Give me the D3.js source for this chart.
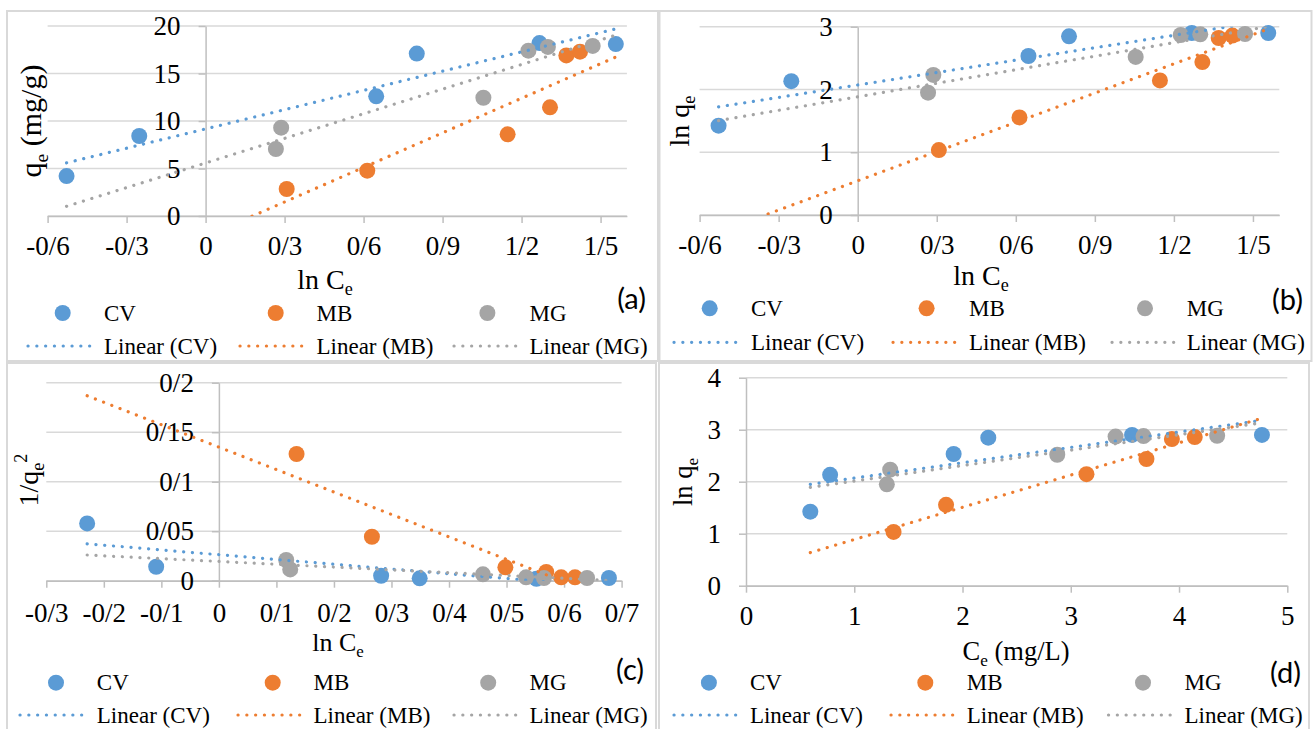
<!DOCTYPE html>
<html>
<head>
<meta charset="utf-8">
<script src="https://cdn.jsdelivr.net/npm/d3@7/dist/d3.min.js"></script>
<style>
  body { margin: 0; background: #fff; }
  svg text { font-family: "Liberation Serif", "Times New Roman", serif; fill: #000; }
</style>
</head>
<body>
<svg id="chart" width="1316" height="729"></svg>
<script>
// series names and colours
var seriesNames = ["CV", "MB", "MG"];
var seriesColors = ["#5B9BD5", "#ED7D31", "#A5A5A5"];

// ln Ce (panels a and b)
var lnCe_CV = [-0.528, -0.252, 0.648, 0.802, 1.268, 1.558];
var lnCe_MB = [0.308, 0.614, 1.147, 1.308, 1.370, 1.422];
var lnCe_MG = [0.267, 0.287, 1.055, 1.226, 1.300, 1.470];

// qe (mg/g), panel a
var qe_CV = [4.2, 8.42, 12.6, 17.1, 18.2, 18.1];
var qe_MB = [2.84, 4.77, 8.6, 11.44, 16.9, 17.3];
var qe_MG = [7.05, 9.3, 12.45, 17.4, 17.8, 17.9];

// ln qe, panels b and d
var lnqe_CV = [1.423, 2.132, 2.533, 2.846, 2.900, 2.900];
var lnqe_MB = [1.034, 1.555, 2.144, 2.437, 2.820, 2.858];
var lnqe_MG = [1.949, 2.231, 2.518, 2.868, 2.878, 2.884];

// panel c: x axis (log Ce) and 1/qe^2
var logCe_CV = [-0.229, -0.109, 0.282, 0.349, 0.552, 0.678];
var logCe_MB = [0.135, 0.266, 0.498, 0.569, 0.595, 0.619];
var logCe_MG = [0.117, 0.124, 0.459, 0.534, 0.565, 0.640];
var invq2_CV = [0.0579, 0.0141, 0.0050, 0.0024, 0.0020, 0.0027];
var invq2_MB = [0.128, 0.0444, 0.0135, 0.0088, 0.0034, 0.0034];
var invq2_MG = [0.0209, 0.0114, 0.0064, 0.0034, 0.0027, 0.0027];

// panel d: Ce (mg/L)
var Ce_CV = [0.594, 0.777, 1.918, 2.238, 3.566, 4.766];
var Ce_MB = [1.363, 1.848, 3.145, 3.699, 3.934, 4.145];
var Ce_MG = [1.301, 1.332, 2.875, 3.414, 3.672, 4.352];

// tick values
var ticksLnCe = [-0.6, -0.3, 0, 0.3, 0.6, 0.9, 1.2, 1.5];
var ticksQe = [0, 5, 10, 15, 20];
var ticksLnQe3 = [0, 1, 2, 3];
var ticksLogCe = [-0.3, -0.2, -0.1, 0, 0.1, 0.2, 0.3, 0.4, 0.5, 0.6, 0.7];
var ticksInvQ2 = [0, 0.05, 0.1, 0.15, 0.2];
var ticksCe = [0, 1, 2, 3, 4, 5];
var ticksLnQe4 = [0, 1, 2, 3, 4];

var svg = d3.select("#chart");

// persian style decimal separator
function fmt(v) {
  return String(+v.toFixed(3)).replace(".", "/");
}

function linFit(xs, ys) {
  var mx = d3.mean(xs), my = d3.mean(ys), sxx = 0, sxy = 0;
  xs.forEach(function(x, i) {
    sxx += (x - mx) * (x - mx);
    sxy += (x - mx) * (ys[i] - my);
  });
  var b = sxy / sxx;
  return { slope: b, icpt: my - b * mx };
}

// text with subscripts / superscripts
function richText(sel, parts, size) {
  var shift = 0;
  parts.forEach(function(p) {
    var target = p.sub ? size * 0.22 : (p.sup ? -size * 0.4 : 0);
    var ts = sel.append("tspan").text(p.t).attr("dy", target - shift);
    if (p.sub || p.sup) ts.style("font-size", (size * 0.65) + "px");
    shift = target;
  });
}

function drawPanel(c, id) {
  var g = svg.append("g");

  g.append("rect")
    .attr("x", c.box[0]).attr("y", c.box[1])
    .attr("width", c.box[2]).attr("height", c.box[3])
    .attr("fill", "none").attr("stroke", "#d9d9d9").attr("stroke-width", 2);

  var x = d3.scaleLinear().domain(c.xDomain).range(c.xRange);
  var y = d3.scaleLinear().domain(c.yDomain).range(c.yRange);

  // gridlines
  g.append("g").selectAll("line")
    .data(c.yTicks)
    .enter().append("line")
    .attr("x1", c.xRange[0]).attr("x2", c.xRange[1])
    .attr("y1", function(d) { return y(d); })
    .attr("y2", function(d) { return y(d); })
    .attr("stroke", "#d9d9d9").attr("stroke-width", 1.5);

  // axes
  var xAx = d3.axisBottom(x).tickValues(c.xTicks).tickFormat(fmt)
    .tickSize(7).tickSizeOuter(0).tickPadding(c.xPad);
  var yAx = d3.axisLeft(y).tickValues(c.yTicks).tickFormat(fmt)
    .tickSize(7).tickSizeOuter(0).tickPadding(18);

  var gx = g.append("g").attr("transform", "translate(0," + y(0) + ")").call(xAx);
  var gy = g.append("g").attr("transform", "translate(" + x(0) + ",0)").call(yAx);
  [gx, gy].forEach(function(a) {
    a.selectAll("path, line").attr("stroke", "#bfbfbf").attr("stroke-width", 1.5);
    a.selectAll("text").attr("fill", "#000")
      .style("font-family", '"Liberation Serif", serif').style("font-size", c.tickSize + "px");
  });

  // axis titles
  var tx = g.append("text").attr("x", c.xTitle[0]).attr("y", c.xTitle[1])
    .attr("text-anchor", "middle").style("font-size", c.xTitleSize + "px");
  richText(tx, c.xTitleParts, c.xTitleSize);
  var ty = g.append("text")
    .attr("transform", "translate(" + c.yTitle[0] + "," + c.yTitle[1] + ") rotate(-90)")
    .attr("text-anchor", "middle").style("font-size", c.yTitleSize + "px");
  richText(ty, c.yTitleParts, c.yTitleSize);

  // markers
  c.xs.forEach(function(xs, s) {
    g.append("g").selectAll("circle")
      .data(xs.map(function(v, i) { return [v, c.ys[s][i]]; }))
      .enter().append("circle")
      .attr("cx", function(d) { return x(d[0]); })
      .attr("cy", function(d) { return y(d[1]); })
      .attr("r", 8)
      .attr("fill", seriesColors[s]);
  });

  // linear trendlines, clipped to plot area
  g.append("clipPath").attr("id", "clip" + id).append("rect")
    .attr("x", c.xRange[0]).attr("y", c.yRange[1])
    .attr("width", c.xRange[1] - c.xRange[0]).attr("height", c.yRange[0] - c.yRange[1]);
  var ext = d3.extent(d3.merge(c.xs));
  c.xs.forEach(function(xs, s) {
    var f = linFit(xs, c.ys[s]);
    g.append("line")
      .attr("clip-path", "url(#clip" + id + ")")
      .attr("x1", x(ext[0])).attr("y1", y(f.icpt + f.slope * ext[0]))
      .attr("x2", x(ext[1])).attr("y2", y(f.icpt + f.slope * ext[1]))
      .attr("stroke", seriesColors[s]).attr("stroke-width", 3.2)
      .attr("stroke-linecap", "round").attr("stroke-dasharray", "0.1 8.7");
  });

  // legend
  var L = c.legend;
  seriesNames.forEach(function(name, s) {
    g.append("circle").attr("cx", L.mx[s]).attr("cy", L.row1).attr("r", 8)
      .attr("fill", seriesColors[s]);
    g.append("text").attr("x", L.tx[s]).attr("y", L.row1 + 7.5)
      .style("font-size", "23px").text(name);
    g.append("line").attr("x1", L.lx[s]).attr("x2", L.lx[s] + 62)
      .attr("y1", L.row2).attr("y2", L.row2)
      .attr("stroke", seriesColors[s]).attr("stroke-width", 3.2)
      .attr("stroke-linecap", "round").attr("stroke-dasharray", "0.1 8.7");
    g.append("text").attr("x", L.tx[s]).attr("y", L.row2 + 7.5)
      .style("font-size", "23px").text("Linear (" + name + ")");
  });

  g.append("text").attr("x", c.tag[0]).attr("y", c.tag[1])
    .attr("text-anchor", "end")
    .style("font-family", "Lato, 'Open Sans', sans-serif").style("font-size", "29px")
    .text(c.tagText);
}

drawPanel({
  box: [7, 11, 651, 350],
  xDomain: [-0.6, 1.6], xRange: [47.6, 626.9],
  yDomain: [0, 20], yRange: [216, 26],
  xTicks: ticksLnCe, yTicks: ticksQe,
  xs: [lnCe_CV, lnCe_MB, lnCe_MG], ys: [qe_CV, qe_MB, qe_MG],
  tickSize: 27, xPad: 13,
  xTitle: [325, 289], xTitleSize: 28, xTitleParts: [{t: "ln C"}, {t: "e", sub: true}],
  yTitle: [41, 121], yTitleSize: 30, yTitleParts: [{t: "q"}, {t: "e", sub: true}, {t: " (mg/g)"}],
  legend: { mx: [62.7, 275.7, 487.4], tx: [104, 316.5, 529.5], lx: [28, 240, 454], row1: 313, row2: 346 },
  tag: [646, 309], tagText: "(a)"
}, "a");

drawPanel({
  box: [659.5, 11, 652, 350],
  xDomain: [-0.6, 1.6], xRange: [699.6, 1279.3],
  yDomain: [0, 3], yRange: [215, 26.7],
  xTicks: ticksLnCe, yTicks: ticksLnQe3,
  xs: [lnCe_CV, lnCe_MB, lnCe_MG], ys: [lnqe_CV, lnqe_MB, lnqe_MG],
  tickSize: 27, xPad: 13,
  xTitle: [981, 285], xTitleSize: 28, xTitleParts: [{t: "ln C"}, {t: "e", sub: true}],
  yTitle: [689, 121], yTitleSize: 28, yTitleParts: [{t: "ln q"}, {t: "e", sub: true}],
  legend: { mx: [709.7, 926.6, 1145], tx: [751, 969, 1186.7], lx: [674, 893, 1112], row1: 308.3, row2: 342.3 },
  tag: [1303, 310], tagText: "(b)"
}, "b");

drawPanel({
  box: [7, 363, 649, 370],
  xDomain: [-0.3, 0.7], xRange: [46.3, 621.6],
  yDomain: [0, 0.2], yRange: [580.7, 382.7],
  xTicks: ticksLogCe, yTicks: ticksInvQ2,
  xs: [logCe_CV, logCe_MB, logCe_MG], ys: [invq2_CV, invq2_MB, invq2_MG],
  tickSize: 27, xPad: 15,
  xTitle: [338, 651], xTitleSize: 26, xTitleParts: [{t: "ln C"}, {t: "e", sub: true}],
  yTitle: [38, 480], yTitleSize: 28, yTitleParts: [{t: "1/q"}, {t: "e", sub: true}, {t: "2", sup: true}],
  legend: { mx: [56, 272.7, 488.2], tx: [96.8, 313.5, 529.5], lx: [20, 238, 454], row1: 682.7, row2: 715 },
  tag: [644, 680], tagText: "(c)"
}, "c");

drawPanel({
  box: [659, 363, 650, 370],
  xDomain: [0, 5], xRange: [746, 1287.3],
  yDomain: [0, 4], yRange: [585.7, 377.7],
  xTicks: ticksCe, yTicks: ticksLnQe4,
  xs: [Ce_CV, Ce_MB, Ce_MG], ys: [lnqe_CV, lnqe_MB, lnqe_MG],
  tickSize: 27, xPad: 13,
  xTitle: [1016, 660], xTitleSize: 26.5, xTitleParts: [{t: "C"}, {t: "e", sub: true}, {t: " (mg/L)"}],
  yTitle: [692, 482], yTitleSize: 26.5, yTitleParts: [{t: "ln q"}, {t: "e", sub: true}],
  legend: { mx: [708.9, 925.3, 1143], tx: [749.9, 966.8, 1184.5], lx: [674, 891, 1108.5], row1: 682.7, row2: 715 },
  tag: [1301, 683], tagText: "(d)"
}, "d");
</script>
</body>
</html>
